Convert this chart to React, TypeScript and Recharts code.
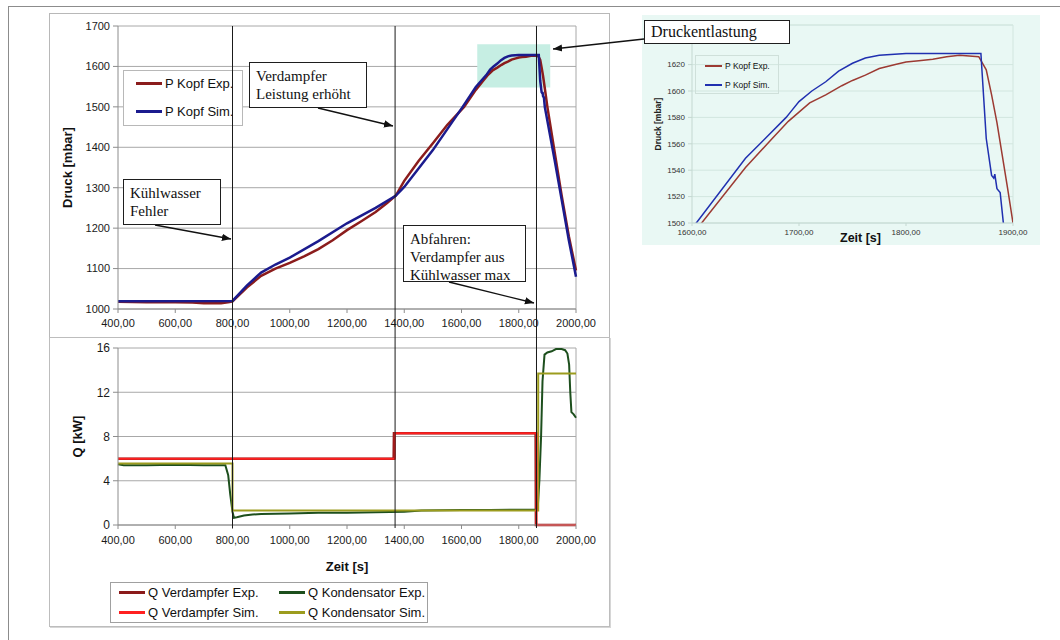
import React from "react";
import { LineChart, Line, XAxis, YAxis, CartesianGrid, ReferenceLine, ReferenceArea } from "recharts";

// Achsen
const zeitTicks = [400, 600, 800, 1000, 1200, 1400, 1600, 1800, 2000];
const druckTicks = [1000, 1100, 1200, 1300, 1400, 1500, 1600, 1700];
const qTicks = [0, 4, 8, 12, 16];
const zoomZeitTicks = [1600, 1700, 1800, 1900];
const zoomDruckTicks = [1500, 1520, 1540, 1560, 1580, 1600, 1620];

// Ereignisse (senkrechte Linien) [s]
const ereignisse = [800, 1368, 1862];

// P Kopf [s, mbar]
const pKopfExp = [
  [400, 1018], [500, 1017], [600, 1017], [660, 1016], [700, 1014], [760, 1014], [790, 1017], [800, 1019],
  [850, 1053], [900, 1082], [950, 1100], [1000, 1114], [1050, 1130], [1100, 1148], [1150, 1170], [1200, 1195],
  [1250, 1217], [1300, 1240], [1340, 1262], [1370, 1280], [1400, 1317], [1450, 1366], [1500, 1410], [1550, 1455],
  [1609, 1500], [1650, 1542], [1675, 1564], [1690, 1577], [1700, 1584], [1710, 1591], [1725, 1597], [1740, 1604],
  [1750, 1608], [1762, 1612], [1775, 1617], [1790, 1620], [1800, 1622], [1812, 1623], [1825, 1624], [1838, 1626],
  [1850, 1627], [1868, 1626], [1875, 1616], [1880, 1597], [1885, 1576], [1890, 1551],
  [1895, 1526], [1900, 1500], [1925, 1390], [1950, 1280], [1975, 1180], [2000, 1095],
];
const pKopfSim = [
  [400, 1019], [800, 1020], [850, 1058], [900, 1090], [950, 1110], [1000, 1127], [1100, 1168], [1200, 1212],
  [1300, 1250], [1370, 1280], [1400, 1302], [1500, 1393], [1604, 1500], [1650, 1549], [1688, 1580], [1692, 1584],
  [1700, 1592], [1712, 1600], [1725, 1607], [1737, 1615], [1750, 1621], [1762, 1625], [1775, 1627], [1800, 1628.5],
  [1870, 1628.5], [1875, 1564], [1880, 1536], [1882, 1534], [1883, 1537],
  [1885, 1526], [1888, 1523], [1891, 1500], [1925, 1370], [1950, 1270], [1975, 1170], [2000, 1080],
];

// Q [s, kW]
const qVerdampferExp = [[400, 6.0], [1363, 6.0], [1364, 8.3], [1859, 8.3], [1860, 0], [2000, 0]];
const qVerdampferSim = [[400, 6.0], [1367, 6.0], [1367, 8.3], [1862, 8.3], [1862, 0], [2000, 0]];
const qKondensatorExp = [
  [400, 5.5], [420, 5.4], [500, 5.4], [600, 5.45], [700, 5.4], [775, 5.4], [785, 4.5], [792, 2.8], [800, 1.2],
  [805, 0.65], [815, 0.7], [840, 0.85], [870, 0.95], [900, 1.0], [1000, 1.05], [1100, 1.1], [1200, 1.1],
  [1300, 1.15], [1400, 1.2], [1460, 1.3], [1600, 1.35], [1700, 1.35], [1866, 1.4], [1872, 4.0], [1878, 8.0],
  [1883, 13.0], [1890, 15.4], [1900, 15.6], [1915, 15.7], [1930, 15.9], [1950, 15.9], [1962, 15.8], [1970, 15.5],
  [1976, 14.5], [1980, 12.0], [1984, 10.2], [1992, 10.0], [2000, 9.7],
];
const qKondensatorSim = [[400, 5.55], [800, 5.55], [800, 1.3], [1868, 1.3], [1868, 13.7], [2000, 13.7]];

const pts = (arr: number[][]) => arr.map(([t, v]) => ({ t, v }));
const komma = (v: number) => v.toFixed(2).replace(".", ",");

const SANS = "'Liberation Sans', Arial, sans-serif";
const SERIF = "'Liberation Serif', 'Times New Roman', serif";

const tick11 = { fontSize: 11, fill: "#1a1a1a", fontFamily: SANS };
const tick12 = { fontSize: 12, fill: "#1a1a1a", fontFamily: SANS };
const tick8 = { fontSize: 8, fill: "#333", fontFamily: SANS };

const box = (left: number, top: number, width: number, height: number, extra: any = {}) => ({
  position: "absolute" as const, left, top, width, height, boxSizing: "border-box" as const, ...extra,
});

function Hinweis({ left, top, width, height, lines, size = 15 }: any) {
  return (
    <div style={box(left, top, width, height, {
      border: "1.5px solid #1e1e1e", background: "#fff", fontFamily: SERIF, fontSize: size,
      lineHeight: "18px", padding: "4px 6px", color: "#111", whiteSpace: "nowrap",
    })}>
      {lines.map((l: string) => <div key={l}>{l}</div>)}
    </div>
  );
}

function LegendItem({ left, top, color, text, size = 13, len = 26, w = 2.5 }: any) {
  return (
    <div style={{ position: "absolute", left, top, display: "flex", alignItems: "center", fontFamily: SANS, fontSize: size, color: "#111", whiteSpace: "nowrap" }}>
      <span style={{ display: "inline-block", width: len, height: w, background: color, marginRight: 3 }} />
      {text}
    </div>
  );
}

export default function App() {
  const ereignisDaten = ereignisse.map((t) => ({ t, v: 0 }));
  return (
    <div style={{ position: "absolute", left: 0, top: 0, width: 1060, height: 640, background: "#fff", overflow: "hidden" }}>
      {/* Rahmen */}
      <div style={box(8, 6, 1060, 640, { borderTop: "1px solid #8c8c8c", borderLeft: "1px solid #8c8c8c" })} />
      <div style={box(49, 13, 561, 325, { border: "1px solid #b8b8b8" })} />
      <div style={box(49, 337, 561, 290, { border: "1px solid #bdbdbd", boxShadow: "1px 1px 0 #d6d6d6" })} />

      {/* Druck */}
      <div style={{ position: "absolute", left: 49, top: 13 }}>
        <LineChart width={561} height={324} margin={{ top: 13, right: 34, left: 0, bottom: 0 }}>
          <CartesianGrid vertical={false} stroke="#a8a8a8" />
          <ReferenceArea x1={1655} x2={1910} y1={1548} y2={1655} fill="#c6eee3" fillOpacity={1} stroke="none" />
          <ReferenceLine x={2000} stroke="#a8a8a8" />
          <XAxis type="number" dataKey="t" domain={[400, 2000]} ticks={zeitTicks} tickFormatter={komma}
            height={28} tick={tick11} tickSize={4} tickMargin={6} stroke="#8c8c8c" />
          <YAxis type="number" domain={[1000, 1700]} ticks={druckTicks} width={69} tick={tick11}
            tickSize={5} tickMargin={3} stroke="#8c8c8c"
            label={{ value: "Druck [mbar]", angle: -90, position: "insideLeft", offset: 18,
              style: { textAnchor: "middle", fontWeight: "bold", fontSize: 13, fill: "#111", fontFamily: SANS } }} />
          <Line data={pts(pKopfExp)} dataKey="v" stroke="#8b1c1c" strokeWidth={2.5} dot={false} isAnimationActive={false} />
          <Line data={pts(pKopfSim)} dataKey="v" stroke="#1b1b8e" strokeWidth={2.5} dot={false} isAnimationActive={false} />
        </LineChart>
      </div>

      {/* Q */}
      <div style={{ position: "absolute", left: 49, top: 337 }}>
        <LineChart width={561} height={290} margin={{ top: 11, right: 34, left: 0, bottom: 52 }}>
          <CartesianGrid vertical={false} stroke="#a8a8a8" />
          <ReferenceLine x={2000} stroke="#a8a8a8" />
          <XAxis type="number" dataKey="t" domain={[400, 2000]} ticks={zeitTicks} tickFormatter={komma}
            height={50} tick={tick11} tickSize={4} tickMargin={7} stroke="#8c8c8c"
            label={{ value: "Zeit [s]", position: "insideBottom", offset: 4,
              style: { fontWeight: "bold", fontSize: 13, fill: "#111", fontFamily: SANS } }} />
          <YAxis type="number" domain={[0, 16]} ticks={qTicks} width={69} tick={tick12}
            tickSize={5} tickMargin={3} stroke="#8c8c8c"
            label={{ value: "Q [kW]", angle: -90, position: "insideLeft", offset: 28,
              style: { textAnchor: "middle", fontWeight: "bold", fontSize: 13, fill: "#111", fontFamily: SANS } }} />
          <Line data={pts(qVerdampferExp)} dataKey="v" stroke="#8b1a1a" strokeWidth={2.5} dot={false} isAnimationActive={false} />
          <Line data={pts(qKondensatorExp)} dataKey="v" stroke="#1d4f1d" strokeWidth={2} dot={false} isAnimationActive={false} />
          <Line data={pts(qKondensatorSim)} dataKey="v" stroke="#9c9c1e" strokeWidth={2} dot={false} isAnimationActive={false} />
          <Line data={pts(qVerdampferSim)} dataKey="v" stroke="#ff2020" strokeWidth={2} dot={false} isAnimationActive={false} />
        </LineChart>
      </div>

      {/* Legenden */}
      <div style={box(123, 70, 120, 56, { border: "1px solid #b8b8b8", background: "#fff" })} />
      <LegendItem left={136} top={76} color="#8b1c1c" text="P Kopf Exp." />
      <LegendItem left={136} top={104} color="#1b1b8e" text="P Kopf Sim." />

      <div style={box(110, 582, 318, 41, { border: "1px solid #a0a0a0", background: "#fff" })} />
      <LegendItem left={119} top={585} color="#8b1a1a" text="Q Verdampfer Exp." size={13} />
      <LegendItem left={119} top={605} color="#ff2020" text="Q Verdampfer Sim." size={13} />
      <LegendItem left={279} top={585} color="#1d4f1d" text="Q Kondensator Exp." size={13} />
      <LegendItem left={279} top={605} color="#9c9c1e" text="Q Kondensator Sim." size={13} />

      {/* Ereignislinien über beide Diagramme */}
      <div style={{ position: "absolute", left: 49, top: 13, pointerEvents: "none" }}>
        <LineChart width={561} height={614} margin={{ top: 13, right: 34, left: 0, bottom: 0 }}>
          <XAxis type="number" dataKey="t" domain={[400, 2000]} height={99} tick={false} axisLine={false} tickLine={false} />
          <YAxis type="number" domain={[0, 1]} width={69} tick={false} axisLine={false} tickLine={false} />
          <Line data={ereignisDaten} dataKey="v" stroke="none" dot={false} isAnimationActive={false} />
          {ereignisse.map((t) => (
            <ReferenceLine key={t} x={t} stroke="#1a1a1a" strokeWidth={1} />
          ))}
        </LineChart>
      </div>

      {/* Ausschnitt */}
      <div style={box(642, 15, 398, 230, { background: "#e9f8f4" })} />
      <div style={{ position: "absolute", left: 642, top: 15 }}>
        <LineChart width={398} height={230} margin={{ top: 10, right: 27, left: 0, bottom: 0 }}>
          <CartesianGrid vertical={false} stroke="#d2e6df" />
          <ReferenceLine y={1650} stroke="#d2e6df" />
          <ReferenceLine x={1900} stroke="#d2e6df" />
          <XAxis type="number" dataKey="t" domain={[1600, 1900]} ticks={zoomZeitTicks} tickFormatter={komma}
            allowDataOverflow height={22} tick={tick8} tickSize={3} tickMargin={3} stroke="#c4d8d1"
            label={{ value: "Zeit [s]", position: "insideBottom", offset: 3, dx: 8,
              style: { fontWeight: "bold", fontSize: 12.5, fill: "#111", fontFamily: SANS } }} />
          <YAxis type="number" domain={[1500, 1650]} ticks={zoomDruckTicks} allowDataOverflow width={50}
            tick={tick8} tickSize={4} tickMargin={3} stroke="#c4d8d1"
            label={{ value: "Druck [mbar]", angle: -90, position: "insideLeft", offset: 16,
              style: { textAnchor: "middle", fontWeight: "bold", fontSize: 8.5, fill: "#222", fontFamily: SANS } }} />
          <Line data={pts(pKopfExp)} dataKey="v" stroke="#9c3a32" strokeWidth={1.5} dot={false} isAnimationActive={false} />
          <Line data={pts(pKopfSim)} dataKey="v" stroke="#2030b0" strokeWidth={1.5} dot={false} isAnimationActive={false} />
        </LineChart>
      </div>
      <div style={box(695, 55, 84, 39, { border: "1px solid #cfe0da" })} />
      <LegendItem left={705} top={61} color="#9c3a32" text="P Kopf Exp." size={8.5} len={17} w={1.5} />
      <LegendItem left={705} top={80} color="#2030b0" text="P Kopf Sim." size={8.5} len={17} w={1.5} />

      {/* Hinweise */}
      <svg width={1060} height={640} style={{ position: "absolute", left: 0, top: 0, pointerEvents: "none" }}>
        <defs>
          <marker id="pfeil" viewBox="0 0 10 10" refX="10" refY="5" markerWidth="7" markerHeight="7" orient="auto">
            <path d="M0,1 L10,5 L0,9 z" fill="#111" />
          </marker>
        </defs>
        <line x1={155} y1={225} x2={231} y2={239} stroke="#111" strokeWidth={1.3} markerEnd="url(#pfeil)" />
        <line x1={318} y1={108} x2={393} y2={126} stroke="#111" strokeWidth={1.3} markerEnd="url(#pfeil)" />
        <line x1={449} y1={282} x2={534} y2={303} stroke="#111" strokeWidth={1.3} markerEnd="url(#pfeil)" />
        <line x1={644} y1={39} x2={553} y2={49} stroke="#111" strokeWidth={1.3} markerEnd="url(#pfeil)" />
      </svg>
      <Hinweis left={123} top={179} width={98} height={46} lines={["Kühlwasser", "Fehler"]} />
      <Hinweis left={249} top={62} width={118} height={46} lines={["Verdampfer", "Leistung erhöht"]} />
      <Hinweis left={403} top={225} width={123} height={57} lines={["Abfahren:", "Verdampfer aus", "Kühlwasser max"]} />
      <div style={box(644, 20, 146, 24, {
        border: "1.5px solid #1e1e1e", background: "#fff", fontFamily: SERIF, fontSize: 16,
        lineHeight: "21px", padding: "0 6px", color: "#111", whiteSpace: "nowrap",
      })}>Druckentlastung</div>
    </div>
  );
}
